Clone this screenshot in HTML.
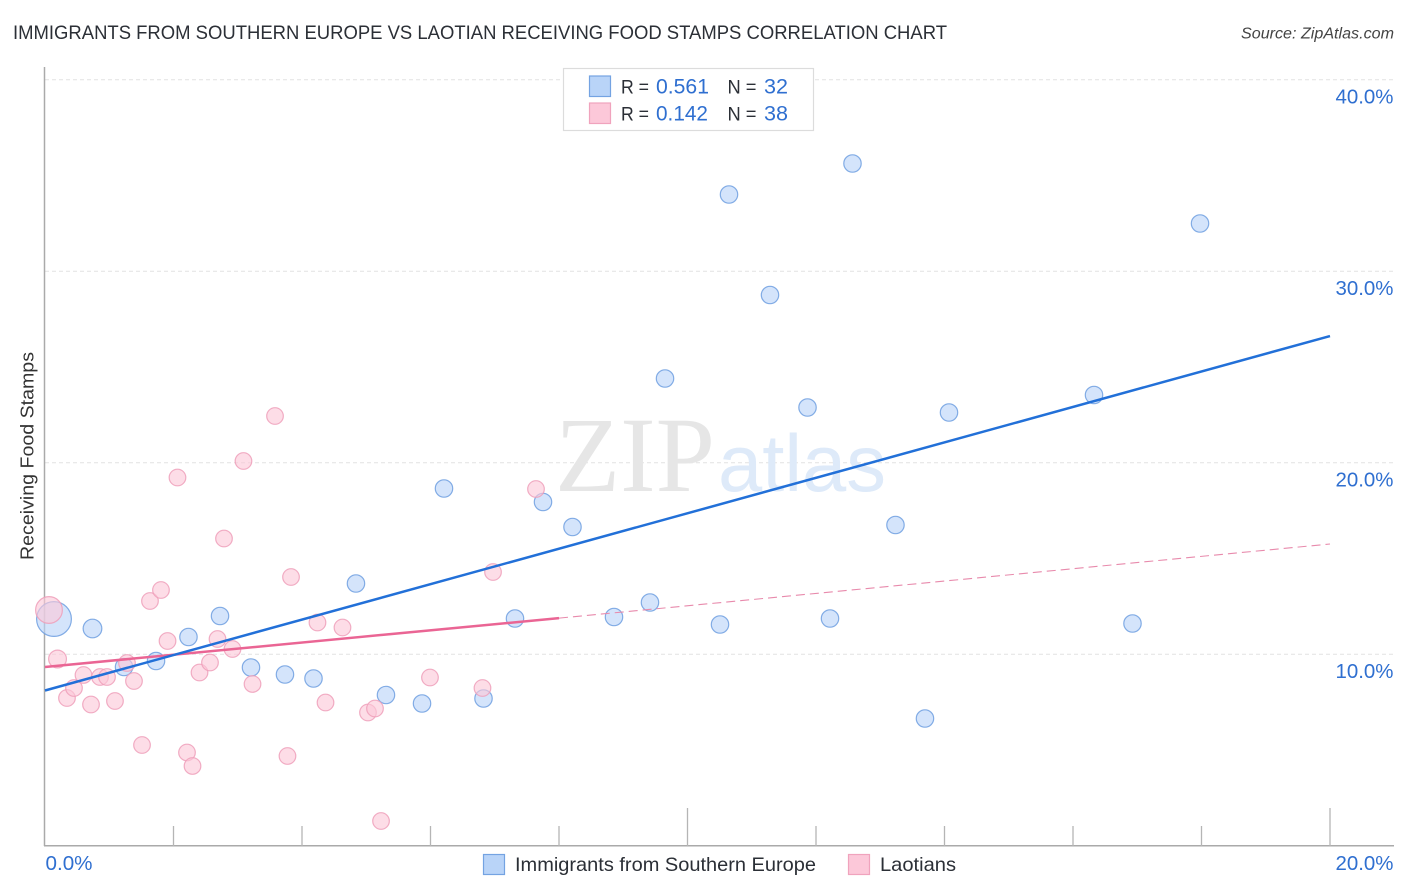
<!DOCTYPE html>
<html>
<head>
<meta charset="utf-8">
<style>
html,body{margin:0;padding:0;background:#fff;}
svg{display:block;font-family:"Liberation Sans",sans-serif;}
</style>
</head>
<body>
<svg id="chart" xmlns="http://www.w3.org/2000/svg" width="1406" height="892" viewBox="0 0 1406 892">
  <rect x="0" y="0" width="1406" height="892" fill="#fff"/>
  <text x="13" y="39" font-size="19" fill="#2b2f36" textLength="934" lengthAdjust="spacingAndGlyphs">IMMIGRANTS FROM SOUTHERN EUROPE VS LAOTIAN RECEIVING FOOD STAMPS CORRELATION CHART</text>
  <text x="1394" y="38.5" font-size="15.5" font-style="italic" fill="#444" text-anchor="end" textLength="153" lengthAdjust="spacingAndGlyphs">Source: ZipAtlas.com</text>
  <g id="grid"></g>
  <g>
    <text x="555" y="491" font-family="'Liberation Serif',serif" font-size="107" fill="#e6e6e6" textLength="160" lengthAdjust="spacingAndGlyphs">ZIP</text>
    <text x="718" y="491" font-family="'Liberation Sans',sans-serif" font-size="81" fill="#deeaf9" textLength="168" lengthAdjust="spacingAndGlyphs">atlas</text>
  </g>
  <g id="axes"></g>
  <g id="points-blue"></g>
  <g id="points-pink"></g>
  <g id="trends"></g>
  <g id="labels"></g>
  <text transform="translate(33.5,456) rotate(-90)" font-size="18.5" fill="#333" text-anchor="middle" textLength="208" lengthAdjust="spacingAndGlyphs">Receiving Food Stamps</text>

  <g>
    <rect x="563.5" y="68.5" width="250" height="62" fill="#fff" stroke="#dcdcdc" stroke-width="1.2"/>
    <rect x="589.5" y="76" width="21" height="20.5" fill="#b9d4f8" stroke="#74a3e2" stroke-width="1.2"/>
    <rect x="589.5" y="103" width="21" height="20.5" fill="#fcc8d9" stroke="#f0a3bd" stroke-width="1.2"/>
    <text x="621" y="93.5" font-size="19.5" fill="#2b2f36" textLength="28" lengthAdjust="spacingAndGlyphs">R =</text>
    <text x="656" y="93.5" font-size="21" fill="#2f6fd0" textLength="53" lengthAdjust="spacingAndGlyphs">0.561</text>
    <text x="727.5" y="93.5" font-size="19.5" fill="#2b2f36" textLength="29" lengthAdjust="spacingAndGlyphs">N =</text>
    <text x="764" y="93.5" font-size="21" fill="#2f6fd0" textLength="24" lengthAdjust="spacingAndGlyphs">32</text>
    <text x="621" y="120.5" font-size="19.5" fill="#2b2f36" textLength="28" lengthAdjust="spacingAndGlyphs">R =</text>
    <text x="656" y="120.5" font-size="21" fill="#2f6fd0" textLength="52" lengthAdjust="spacingAndGlyphs">0.142</text>
    <text x="727.5" y="120.5" font-size="19.5" fill="#2b2f36" textLength="29" lengthAdjust="spacingAndGlyphs">N =</text>
    <text x="764" y="120.5" font-size="21" fill="#2f6fd0" textLength="24" lengthAdjust="spacingAndGlyphs">38</text>
  </g>

  <g>
    <rect x="483.5" y="854.5" width="21" height="20" fill="#b9d4f8" stroke="#74a3e2" stroke-width="1.2"/>
    <text x="515" y="871" font-size="19.5" fill="#2b2f36" textLength="301" lengthAdjust="spacingAndGlyphs">Immigrants from Southern Europe</text>
    <rect x="848.5" y="854.5" width="21" height="20" fill="#fcc8d9" stroke="#f0a3bd" stroke-width="1.2"/>
    <text x="880" y="871" font-size="19.5" fill="#2b2f36" textLength="76" lengthAdjust="spacingAndGlyphs">Laotians</text>
  </g>
</svg>
<script>
var blueX = [0.140,0.739,1.230,1.728,2.233,2.724,3.206,3.735,4.179,4.840,5.307,5.868,6.210,6.825,7.315,7.751,8.210,8.856,9.416,9.650,10.506,10.646,11.284,11.868,12.218,12.568,13.237,13.696,14.070,16.327,16.926,17.977];
var blueY = [11.854,11.358,9.347,9.661,10.914,12.010,9.321,8.956,8.747,13.708,7.885,7.441,18.668,7.702,11.880,17.963,16.658,11.958,12.715,24.413,11.567,34.021,28.773,22.898,11.880,35.640,16.762,6.658,22.637,23.551,11.619,32.507];
var blueWeight = [4,1.15,1,1,1,1,1,1,1,1,1,1,1,1,1,1,1,1,1,1,1,1,1,1,1,1,1,1,1,1,1,1];
var pinkX = [0.062,0.195,0.342,0.451,0.599,0.716,0.856,0.965,1.089,1.276,1.385,1.510,1.634,1.805,1.907,2.062,2.210,2.296,2.405,2.568,2.685,2.786,2.918,3.089,3.230,3.580,3.774,3.829,4.241,4.366,4.630,5.027,5.136,5.230,5.992,6.809,6.973,7.642];
var pinkY = [12.324,9.765,7.728,8.251,8.930,7.389,8.825,8.825,7.572,9.556,8.616,5.274,12.794,13.368,10.705,19.243,4.883,4.178,9.060,9.582,10.809,16.057,10.287,20.104,8.460,22.454,4.700,14.047,11.671,7.493,11.410,6.971,7.180,1.305,8.799,8.251,14.308,18.642];
var pinkWeight = [2.6,1.15,1,1,1,1,1,1,1,1,1,1,1,1,1,1,1,1,1,1,1,1,1,1,1,1,1,1,1,1,1,1,1,1,1,1,1,1];
var blueTrendX = [0,20];
var blueTrendY = [8.12,26.63];
var pinkTrendX = [0,8];
var pinkTrendY = [9.35,11.9];
var pinkDashX = [8,20];
var pinkDashY = [11.9,15.77];
var yTickValues = [10,20,30,40];
var yTickLabels = ["10.0%","20.0%","30.0%","40.0%"];
var xTickValues = [0,2,4,6,8,10,12,14,16,18,20];
var xMajorTicks = [10,20];
var xEndValues = [0,20];
var xEndLabels = ["0.0%","20.0%"];

var NS = "http://www.w3.org/2000/svg";
function xScale(v){ return 45 + v * 64.25; }
function yScale(v){ return 846 - v * 19.15; }
function mk(parent, tag, attrs){
  var el = document.createElementNS(NS, tag);
  for (var k in attrs) el.setAttribute(k, attrs[k]);
  parent.appendChild(el);
  return el;
}
var grid = document.getElementById("grid");
var axes = document.getElementById("axes");
var labels = document.getElementById("labels");
var trends = document.getElementById("trends");
var ptsBlue = document.getElementById("points-blue");
var ptsPink = document.getElementById("points-pink");

yTickValues.forEach(function(v, i){
  var y = yScale(v) - 0.2;
  var g = mk(grid, "line", {x1:45, x2:1393, y1:y, y2:y, stroke:"#e2e2e2", "stroke-width":1, "stroke-dasharray":"4 3"});
  
  
  var t = mk(labels, "text", {x:1393.5, y:yScale(v) + 23.5, "font-size":20, fill:"#2f6fd0", "text-anchor":"end", textLength:58, lengthAdjust:"spacingAndGlyphs"});
  t.textContent = yTickLabels[i];
  
  
});

var leftAxis = mk(axes, "line", {x1:44.5, x2:44.5, y1:67, y2:846, stroke:"#aaa", "stroke-width":1.5});


var bottomAxis = mk(axes, "line", {x1:44, x2:1394, y1:845.8, y2:845.8, stroke:"#aaa", "stroke-width":1.5});



xTickValues.forEach(function(v){
  if (v === 0) return;
  var x = xScale(v);
  var top = xMajorTicks.indexOf(v) >= 0 ? 808 : 826;
  var tk = mk(axes, "line", {x1:x, x2:x, y1:top, y2:846, stroke:"#b5b5b5", "stroke-width":1.3});
  
  
});

xEndValues.forEach(function(v, i){
  var first = i === 0;
  var t = mk(labels, "text", {x:first ? xScale(v) + 0.5 : 1393.5, y:870, "font-size":20, fill:"#2f6fd0", "text-anchor":first ? "start" : "end", textLength:first ? 47 : 58, lengthAdjust:"spacingAndGlyphs"});
  t.textContent = xEndLabels[i];
  
  
});

blueX.forEach(function(v, i){
  var c = mk(ptsBlue, "circle", {cx:xScale(v), cy:yScale(blueY[i]), r:8.7 * Math.sqrt(blueWeight[i]), fill:"#b9d4f8", "fill-opacity":0.62, stroke:"#6f9fe0", "stroke-opacity":0.85, "stroke-width":1.2});
  
  
});
pinkX.forEach(function(v, i){
  var c = mk(ptsPink, "circle", {cx:xScale(v), cy:yScale(pinkY[i]), r:8.3 * Math.sqrt(pinkWeight[i]), fill:"#fcc8d9", "fill-opacity":0.62, stroke:"#ee9fba", "stroke-opacity":0.85, "stroke-width":1.2});
  
  
});

var dash = mk(trends, "line", {x1:xScale(pinkDashX[0]), y1:yScale(pinkDashY[0]), x2:xScale(pinkDashX[1]), y2:yScale(pinkDashY[1]), stroke:"#e88aac", "stroke-width":1.1, "stroke-dasharray":"9 5"});


var pinkLine = mk(trends, "line", {x1:xScale(pinkTrendX[0]), y1:yScale(pinkTrendY[0]), x2:xScale(pinkTrendX[1]), y2:yScale(pinkTrendY[1]), stroke:"#ea6594", "stroke-width":2.5});


var blueLine = mk(trends, "line", {x1:xScale(blueTrendX[0]), y1:yScale(blueTrendY[0]), x2:xScale(blueTrendX[1]), y2:yScale(blueTrendY[1]), stroke:"#2270d8", "stroke-width":2.5});


</script>
</body>
</html>
